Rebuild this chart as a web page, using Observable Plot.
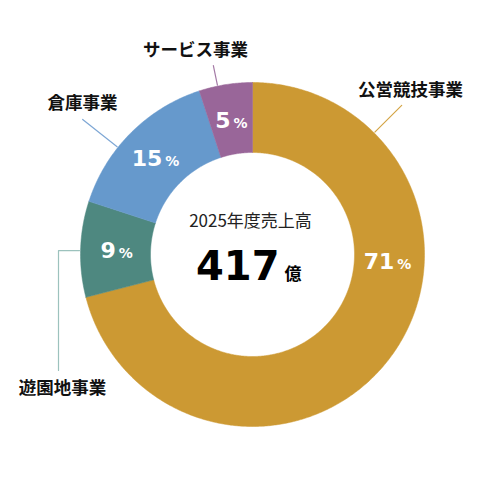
<!DOCTYPE html>
<html><head><meta charset="utf-8">
<script src="https://cdn.jsdelivr.net/npm/d3@7"></script>
<script src="https://cdn.jsdelivr.net/npm/@observablehq/plot@0.6"></script>
<style>body{margin:0;background:#fff}</style>
</head><body><div id="chart"></div>
<script>
// ---- data ----
const categories = ["公営競技事業", "遊園地事業", "倉庫事業", "サービス事業"];
const shares = [71, 9, 15, 5];
const totalLabel = "2025年度売上高";
const totalValue = 417;
const totalUnit = "億";

// ---- style / placement config ----
const colors = ["#CC9933", "#4E8880", "#6699CC", "#996699"];
const leaderColors = ["#D4A546", "#9CC2BD", "#7EA7D5", "#A47AA6"];
const R_OUT = 172, R_IN = 102, R_LBL = 136;
const pctAngleOverride = {"公営競技事業": 92.6};
const leaderSpec = {
  "公営競技事業": {angle: 45, r1: 211},
  "倉庫事業": {angle: 308.5, r1: 217},
  "サービス事業": {angle: 348.3, r1: 193},
  "遊園地事業": {angle: 271.3, elbowX: -194, endY: -116}
};
const catLabelPos = {
  "公営競技事業": [158, 164],
  "サービス事業": [-57, 204],
  "倉庫事業": [-170, 151],
  "遊園地事業": [-190, -134]
};

const rad = d => d * Math.PI / 180;
const polar = (r, a) => ({x: r * Math.sin(rad(a)), y: r * Math.cos(rad(a))});

const total = d3.sum(shares);
let acc = 0;
const slices = categories.map((c, i) => {
  const a0 = acc / total * 360; acc += shares[i];
  const a1 = acc / total * 360;
  return {c, v: shares[i], a0, a1, color: colors[i], lc: leaderColors[i]};
});

function ring(s) {
  const n = Math.max(8, Math.ceil(s.a1 - s.a0) * 2);
  const pts = [];
  for (let k = 0; k <= n; k++) pts.push({c: s.c, ...polar(R_OUT, s.a0 + (s.a1 - s.a0) * k / n)});
  for (let k = n; k >= 0; k--) pts.push({c: s.c, ...polar(R_IN, s.a0 + (s.a1 - s.a0) * k / n)});
  pts.push({...pts[0]});
  return pts;
}

// percent labels
const pctLabels = slices.map(s => {
  const a = pctAngleOverride[s.c] ?? (s.a0 + s.a1) / 2;
  const p = polar(R_LBL, a);
  const txt = String(s.v);
  const numW = txt.length * 13.5, pctW = 15;
  const xEnd = p.x + (numW - pctW) / 2;
  return {num: txt, xNum: xEnd, xPct: xEnd + 3, y: p.y - 8};
});

// leader lines
const leaders = slices.map(s => {
  const L = leaderSpec[s.c];
  const p0 = polar(R_OUT + 1, L.angle);
  let pts;
  if (L.elbowX !== undefined) {
    pts = [p0, {x: L.elbowX, y: p0.y}, {x: L.elbowX, y: L.endY}];
  } else {
    pts = [p0, polar(L.r1, L.angle)];
  }
  return {c: s.c, color: s.lc, pts};
});

const catLabels = categories.map(c => ({c, x: catLabelPos[c][0], y: catLabelPos[c][1]}));

const marks = [];
for (const s of slices) {
  marks.push(Plot.line(ring(s), {x: "x", y: "y", fill: s.color, stroke: s.color, strokeWidth: 0.5, curve: "linear"}));
}
for (const l of leaders) {
  marks.push(Plot.line(l.pts, {x: "x", y: "y", stroke: l.color, strokeWidth: 1.2}));
}
marks.push(
  Plot.text(pctLabels, {x: "xNum", y: "y", text: "num", fill: "white", fontWeight: "bold",
    fontFamily: "DejaVu Sans", fontSize: 22, textAnchor: "end", lineAnchor: "bottom", letterSpacing: -0.5}),
  Plot.text(pctLabels, {x: "xPct", y: "y", text: () => "%", fill: "white", fontWeight: "bold",
    fontFamily: "DejaVu Sans", fontSize: 14, textAnchor: "start", lineAnchor: "bottom"}),
  Plot.text(catLabels, {x: "x", y: "y", text: "c", fill: "#111", fontWeight: "bold",
    fontFamily: "Noto Sans CJK JP", fontSize: 17.5, textAnchor: "middle", lineAnchor: "middle"}),
  Plot.text([totalLabel], {x: () => -2, y: () => 28, text: d => d, fill: "#222",
    fontFamily: "Noto Sans CJK JP", fontSize: 17, textAnchor: "middle", lineAnchor: "bottom"}),
  Plot.text([totalValue], {x: () => 27, y: () => -25, text: d => String(d), fill: "#000", fontWeight: "bold",
    fontFamily: "DejaVu Sans", fontSize: 40, textAnchor: "end", lineAnchor: "bottom", letterSpacing: -2.5}),
  Plot.text([totalUnit], {x: () => 32, y: () => -25, text: d => d, fill: "#000", fontWeight: "bold",
    fontFamily: "Noto Sans CJK JP", fontSize: 17, textAnchor: "start", lineAnchor: "bottom"})
);

const chart = Plot.plot({
  width: 496, height: 481, margin: 0,
  x: {domain: [-252, 244], range: [0, 496], axis: null},
  y: {domain: [-227, 254], range: [481, 0], axis: null},
  marks
});
document.getElementById("chart").appendChild(chart);
</script>
</body></html>
